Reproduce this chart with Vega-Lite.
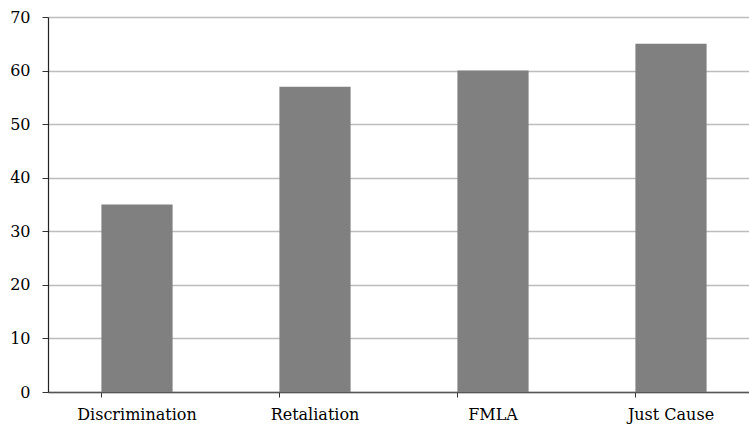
{
  "$schema": "https://vega.github.io/schema/vega-lite/v6.json",
  "autosize": {"type": "none"},
  "padding": {"left": 48, "top": 17, "right": 0, "bottom": 32},
  "width": 712,
  "height": 375,
  "background": "white",
  "config": {"view": {"stroke": null}, "font": "DejaVu Serif"},
  "data": {"values": [
    {"category": "Discrimination", "value": 35},
    {"category": "Retaliation", "value": 57},
    {"category": "FMLA", "value": 60},
    {"category": "Just Cause", "value": 65}
  ]},
  "mark": {"type": "bar", "color": "#808080"},
  "encoding": {
    "x": {
      "field": "category", "type": "nominal", "sort": null,
      "scale": {"paddingInner": 0.6, "paddingOuter": 0.3},
      "axis": {"title": null, "labelAngle": 0, "labelFont": "DejaVu Serif", "labelFontSize": 16, "labelColor": "#000", "labelPadding": 9, "domainColor": "#555", "domainWidth": 1.5, "tickColor": "#333", "tickSize": 5, "bandPosition": 0, "grid": false}
    },
    "y": {
      "field": "value", "type": "quantitative",
      "scale": {"domain": [0, 70]},
      "axis": {"title": null, "values": [0,10,20,30,40,50,60,70], "labelFont": "DejaVu Serif", "labelFontSize": 16, "labelColor": "#000", "labelPadding": 12, "domainColor": "#222", "domainWidth": 1.2, "tickColor": "#333", "tickSize": 6, "gridColor": "#bdbdbd", "gridWidth": 1.6}
    }
  }
}
